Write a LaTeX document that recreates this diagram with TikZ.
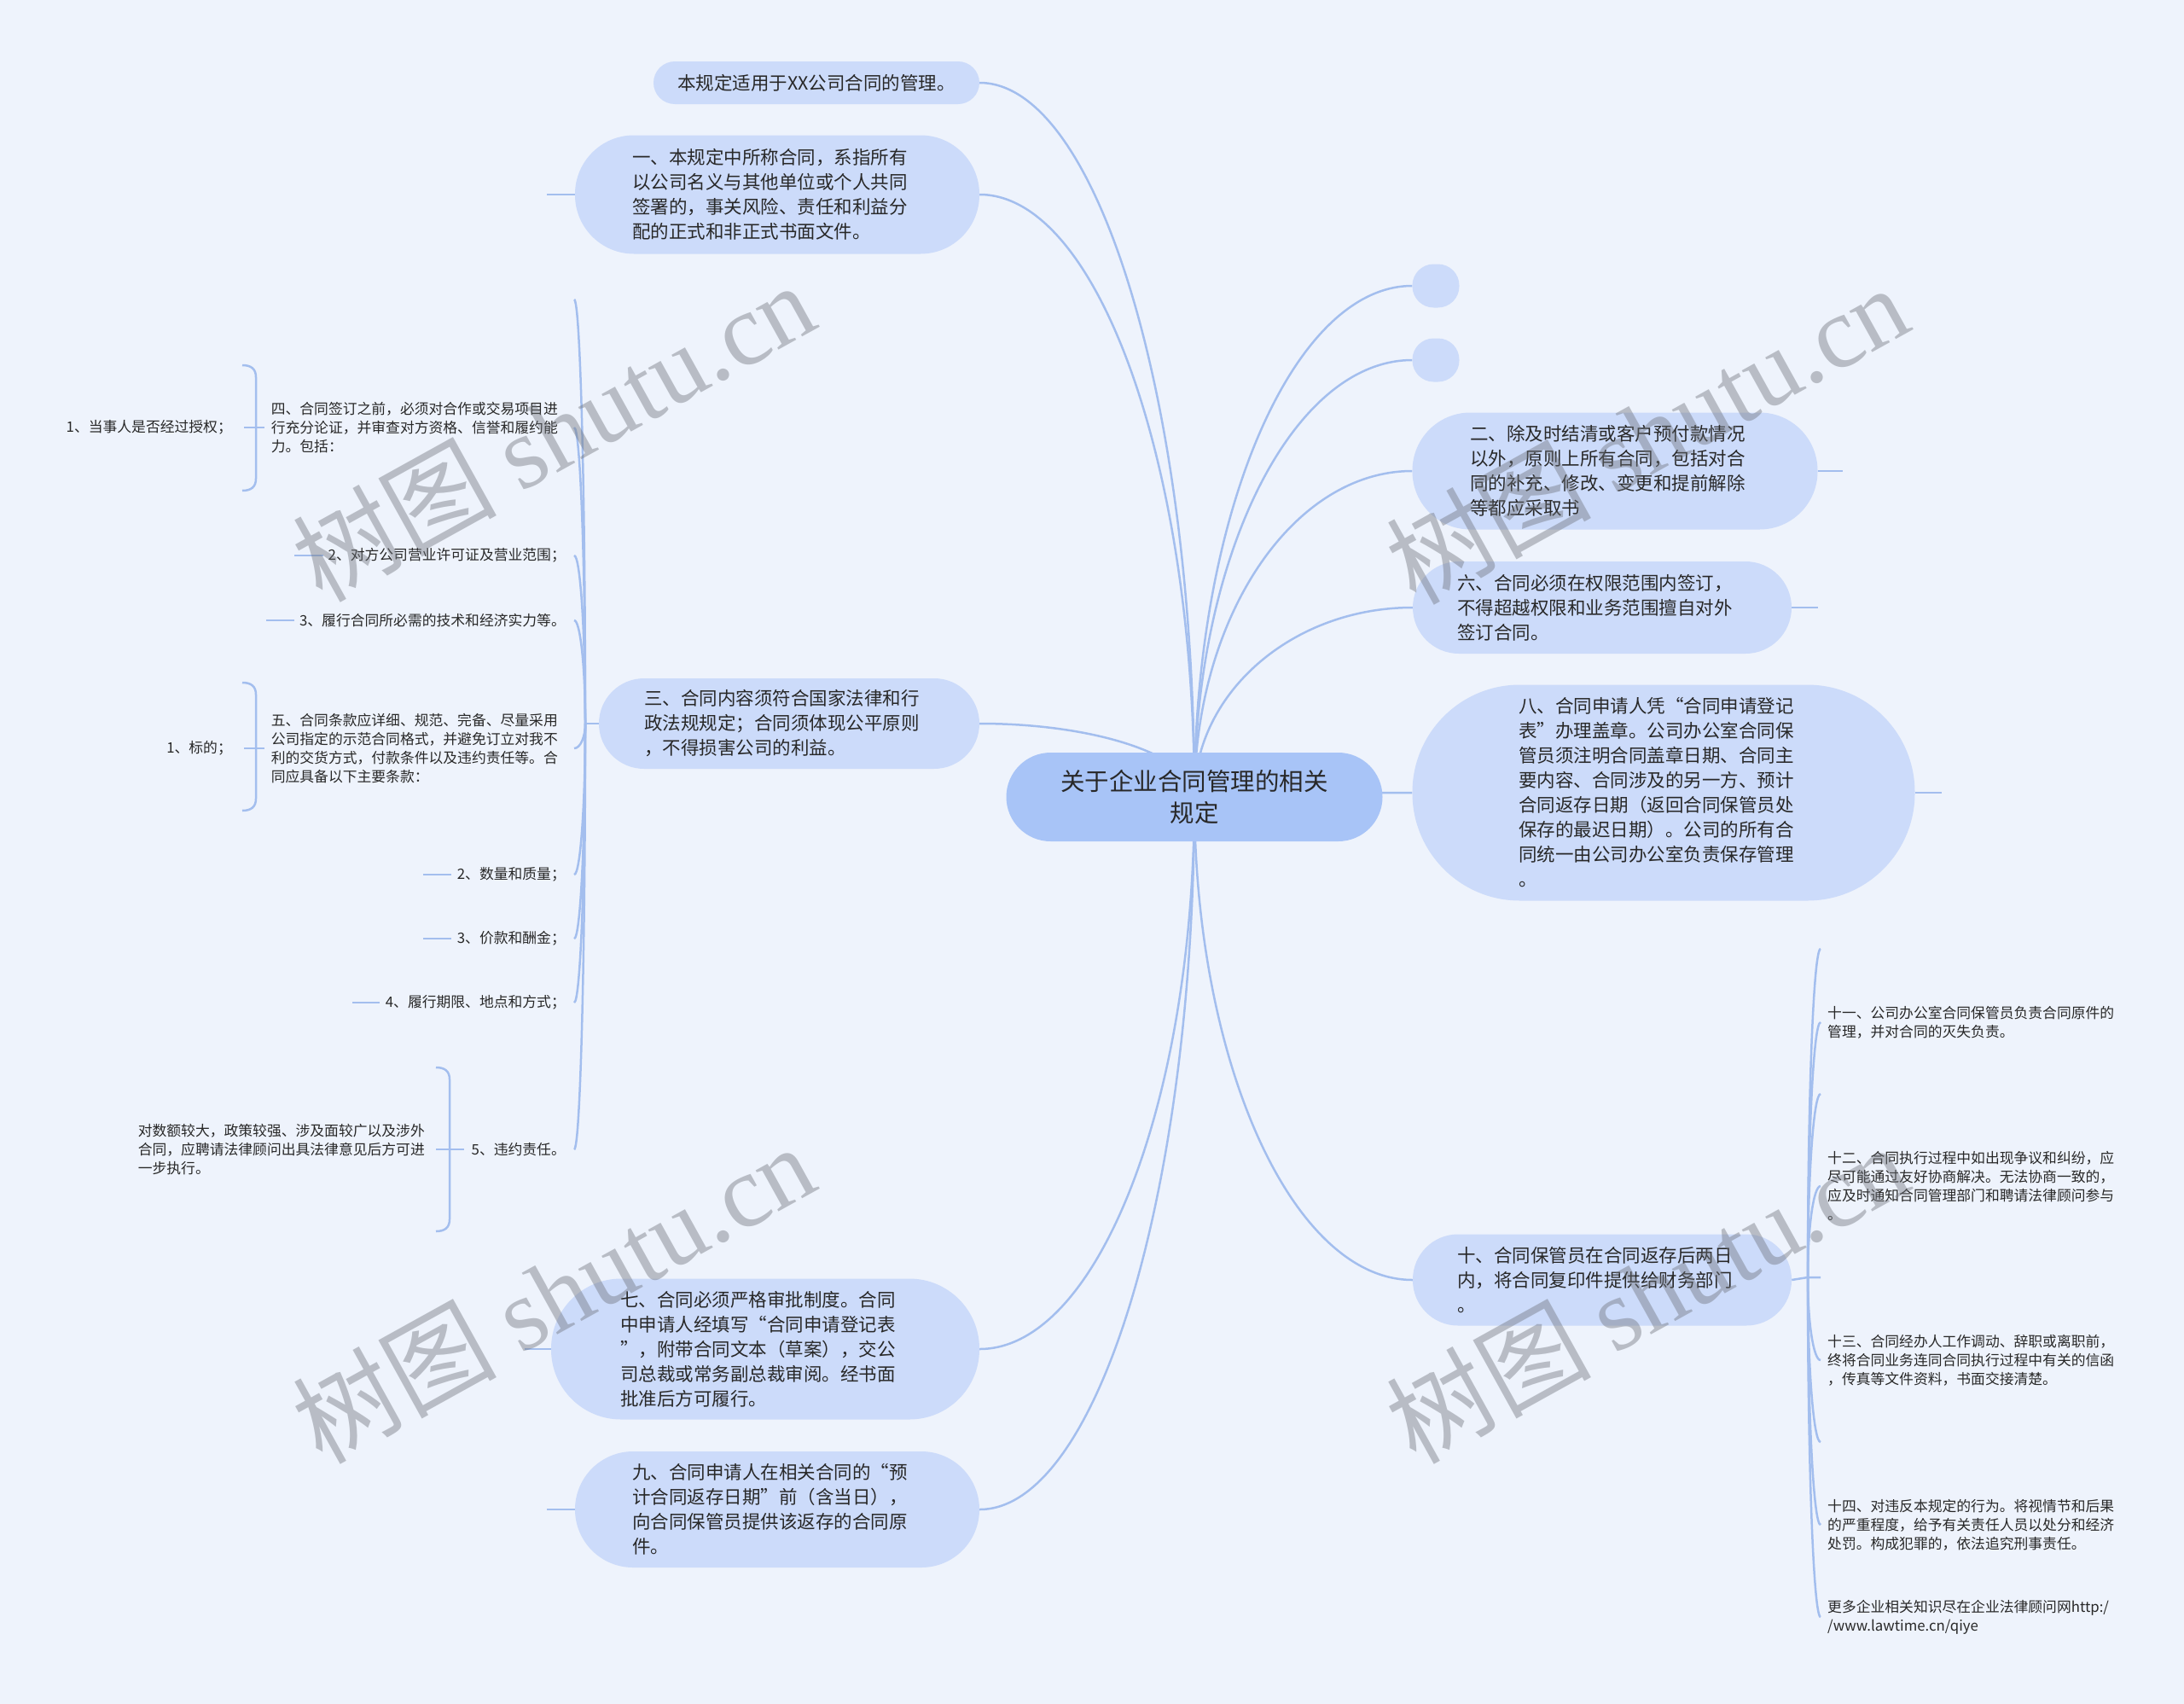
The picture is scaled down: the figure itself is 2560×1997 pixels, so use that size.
\documentclass[tikz,border=0pt]{standalone}
\usepackage{fontspec}
\setmainfont{Noto Sans CJK SC}
\newfontfamily\wmlatin{Liberation Serif}
\usetikzlibrary{calc,backgrounds}
\definecolor{bgc}{RGB}{238,243,252}
\definecolor{nodefill}{RGB}{204,219,250}
\definecolor{rootfill}{RGB}{168,196,247}
\definecolor{linec}{RGB}{163,190,238}
\definecolor{txt}{RGB}{40,40,40}
\definecolor{wmc}{RGB}{110,114,122}
\newcommand\mmlink[2]{\draw[conn] (#1) .. controls ($(#1)!.55!(#1|-#2)$) and ($(#2)!.55!(#1|-#2)$) .. (#2);}
\begin{document}
\begin{tikzpicture}[x=1pt,y=-1pt,
  conn/.style={draw=linec,line width=2.5pt},
  rootnode/.style={rectangle,fill=rootfill,inner sep=0pt,text=txt,align=center,font=\fontsize{28.5}{37}\selectfont,minimum width=441pt,minimum height=104pt,rounded corners=52pt},
  mainnode/.style={rectangle,fill=nodefill,inner sep=0pt,text=txt,align=left,text width=340pt,font=\fontsize{21.5}{29}\selectfont},
  pillnode/.style={rectangle,fill=nodefill,inner sep=0pt,minimum width=55pt,minimum height=51pt,rounded corners=25pt},
  smallnode/.style={inner sep=0pt,text=txt,font=\fontsize{16.8}{22}\selectfont},
  smallblock/.style={smallnode,align=left,text width=345pt},
  wm/.style={text=wmc,text opacity=0.42,inner sep=0pt,font=\fontsize{120}{124}\selectfont,rotate=29}
]
\useasboundingbox (0,0) rectangle (2560,1997);
\begin{pgfonlayer}{background}
\fill[bgc] (0,0) rectangle (2560,1997);
\end{pgfonlayer}

% root
\node[rootnode] (root) at (1400,934) {关于企业合同管理的相关\\规定};

% left main nodes
\node[mainnode,align=center,minimum width=382pt,minimum height=50pt,rounded corners=25pt] (n0) at (957,97) {本规定适用于XX公司合同的管理。};
\node[mainnode,minimum width=474pt,minimum height=139pt,rounded corners=69pt] (n1) at (911,228) {一、本规定中所称合同，系指所有\\以公司名义与其他单位或个人共同\\签署的，事关风险、责任和利益分\\配的正式和非正式书面文件。};
\node[mainnode,minimum width=446pt,minimum height=106pt,rounded corners=53pt] (n3) at (925,848) {三、合同内容须符合国家法律和行\\政法规规定；合同须体现公平原则\\，不得损害公司的利益。};
\node[mainnode,minimum width=502pt,minimum height=165pt,rounded corners=82pt] (n7) at (897,1581) {七、合同必须严格审批制度。合同\\中申请人经填写“合同申请登记表\\”，附带合同文本（草案），交公\\司总裁或常务副总裁审阅。经书面\\批准后方可履行。};
\node[mainnode,minimum width=474pt,minimum height=136pt,rounded corners=68pt] (n9) at (911,1769) {九、合同申请人在相关合同的“预\\计合同返存日期”前（含当日），\\向合同保管员提供该返存的合同原\\件。};

% right main nodes
\node[pillnode] (e1) at (1683,335) {};
\node[pillnode] (e2) at (1683,422) {};
\node[mainnode,minimum width=475pt,minimum height=137pt,rounded corners=68pt] (n2) at (1893,552) {二、除及时结清或客户预付款情况\\以外，原则上所有合同，包括对合\\同的补充、修改、变更和提前解除\\等都应采取书};
\node[mainnode,minimum width=444pt,minimum height=108pt,rounded corners=54pt] (n6) at (1878,712) {六、合同必须在权限范围内签订，\\不得超越权限和业务范围擅自对外\\签订合同。};
\node[mainnode,minimum width=589pt,minimum height=253pt,rounded corners=126pt] (n8) at (1950,929) {八、合同申请人凭“合同申请登记\\表”办理盖章。公司办公室合同保\\管员须注明合同盖章日期、合同主\\要内容、合同涉及的另一方、预计\\合同返存日期（返回合同保管员处\\保存的最迟日期）。公司的所有合\\同统一由公司办公室负责保存管理\\。};
\node[mainnode,minimum width=444pt,minimum height=107pt,rounded corners=53pt] (n10) at (1878,1500) {十、合同保管员在合同返存后两日\\内，将合同复印件提供给财务部门\\。};

% left small nodes
\node[smallblock,anchor=east] (n4) at (663,501) {四、合同签订之前，必须对合作或交易项目进\\行充分论证，并审查对方资格、信誉和履约能\\力。包括：};
\node[smallnode,anchor=east] (n4a) at (272,501) {1、当事人是否经过授权；};
\node[smallnode,anchor=east] (n4b) at (663,651) {2、对方公司营业许可证及营业范围；};
\node[smallnode,anchor=east] (n4c) at (663,727) {3、履行合同所必需的技术和经济实力等。};
\node[smallblock,anchor=east] (n5) at (663,877) {五、合同条款应详细、规范、完备、尽量采用\\公司指定的示范合同格式，并避免订立对我不\\利的交货方式，付款条件以及违约责任等。合\\同应具备以下主要条款：};
\node[smallnode,anchor=east] (n5a) at (272,877) {1、标的；};
\node[smallnode,anchor=east] (n5b) at (663,1025) {2、数量和质量；};
\node[smallnode,anchor=east] (n5c) at (663,1100) {3、价款和酬金；};
\node[smallnode,anchor=east] (n5d) at (663,1175) {4、履行期限、地点和方式；};
\node[smallnode,anchor=east] (n5e) at (663,1347) {5、违约责任。};
\node[smallblock,anchor=east] (n5f) at (507,1347) {对数额较大，政策较强、涉及面较广以及涉外\\合同，应聘请法律顾问出具法律意见后方可进\\一步执行。};

% right small nodes
\node[smallblock,anchor=west] (r11) at (2142,1198) {十一、公司办公室合同保管员负责合同原件的\\管理，并对合同的灭失负责。};
\node[smallblock,anchor=west] (r12) at (2142,1390) {十二、合同执行过程中如出现争议和纠纷，应\\尽可能通过友好协商解决。无法协商一致的，\\应及时通知合同管理部门和聘请法律顾问参与\\。};
\node[smallblock,anchor=west] (r13) at (2142,1594) {十三、合同经办人工作调动、辞职或离职前，\\终将合同业务连同合同执行过程中有关的信函\\，传真等文件资料，书面交接清楚。};
\node[smallblock,anchor=west] (r14) at (2142,1787) {十四、对违反本规定的行为。将视情节和后果\\的严重程度，给予有关责任人员以处分和经济\\处罚。构成犯罪的，依法追究刑事责任。};
\node[smallblock,anchor=west] (r15) at (2142,1895) {更多企业相关知识尽在企业法律顾问网http:/\\/www.lawtime.cn/qiye};

% comb coordinates
\coordinate (J1) at (686,848);
\coordinate (L0) at (673,351);
\coordinate (L1) at (673,501);
\coordinate (L2) at (673,651);
\coordinate (L3) at (673,727);
\coordinate (L4) at (673,877);
\coordinate (L5) at (673,1025);
\coordinate (L6) at (673,1100);
\coordinate (L7) at (673,1175);
\coordinate (L8) at (673,1347);
\coordinate (J2) at (2119,1497);
\coordinate (R0) at (2134,1112);
\coordinate (R1) at (2134,1198);
\coordinate (R2) at (2134,1282);
\coordinate (R3) at (2134,1390);
\coordinate (R4) at (2134,1497);
\coordinate (R5) at (2134,1594);
\coordinate (R6) at (2134,1690);
\coordinate (R7) at (2134,1787);
\coordinate (R8) at (2134,1895);

\begin{pgfonlayer}{background}
% root links
\mmlink{root.center}{n0.east}
\mmlink{root.center}{n1.east}
\mmlink{root.center}{n3.east}
\mmlink{root.center}{n7.east}
\mmlink{root.center}{n9.east}
\mmlink{root.center}{e1.west}
\mmlink{root.center}{e2.west}
\mmlink{root.center}{n2.west}
\mmlink{root.center}{n6.west}
\mmlink{root.center}{n8.west}
\mmlink{root.center}{n10.west}
% stubs on main nodes
\draw[conn] (n1.west) -- ++(-33,0);
\draw[conn] (n7.west) -- ++(-31,0);
\draw[conn] (n9.west) -- ++(-33,0);
\draw[conn] (n2.east) -- ++(29,0);
\draw[conn] (n6.east) -- ++(31,0);
\draw[conn] (n8.east) -- ++(31,0);
% left comb
\draw[conn] (n3.west) -- (J1);
\mmlink{J1}{L0}
\mmlink{J1}{L1}
\mmlink{J1}{L2}
\mmlink{J1}{L3}
\mmlink{J1}{L4}
\mmlink{J1}{L5}
\mmlink{J1}{L6}
\mmlink{J1}{L7}
\mmlink{J1}{L8}
% right comb
\draw[conn] (n10.east) -- (J2) -- (R4);
\mmlink{J2}{R0}
\mmlink{J2}{R1}
\mmlink{J2}{R2}
\mmlink{J2}{R3}
\mmlink{J2}{R5}
\mmlink{J2}{R6}
\mmlink{J2}{R7}
\mmlink{J2}{R8}
% stubs on small nodes
\draw[conn] ($(n4b.west)+(-5,0)$) -- ++(-34,0);
\draw[conn] ($(n4c.west)+(-6,0)$) -- ++(-33,0);
\draw[conn] ($(n5b.west)+(-7,0)$) -- ++(-33,0);
\draw[conn] ($(n5c.west)+(-7,0)$) -- ++(-33,0);
\draw[conn] ($(n5d.west)+(-7,0)$) -- ++(-32,0);
% brackets
\draw[conn] (284,428) .. controls (294,428) and (300,432) .. (300,442) -- (300,561) .. controls (300,571) and (294,575) .. (284,575);
\draw[conn] ($(n4a.east)+(14,0)$) -- ($(n4.west)+(-8,0)$);
\draw[conn] (284,800) .. controls (294,800) and (300,804) .. (300,814) -- (300,936) .. controls (300,946) and (294,950) .. (284,950);
\draw[conn] ($(n5a.east)+(14,0)$) -- ($(n5.west)+(-8,0)$);
\draw[conn] (511,1251) .. controls (521,1251) and (527,1255) .. (527,1265) -- (527,1429) .. controls (527,1439) and (521,1443) .. (511,1443);
\draw[conn] ($(n5f.east)+(4,0)$) -- ($(n5e.west)+(-8,0)$);
\end{pgfonlayer}

% watermarks
\node[wm] (w1) at (648,505) {树图 {\wmlatin shutu.cn}};
\node[wm] (w2) at (1930,508) {树图 {\wmlatin shutu.cn}};
\node[wm] (w3) at (648,1515) {树图 {\wmlatin shutu.cn}};
\node[wm] (w4) at (1930,1515) {树图 {\wmlatin shutu.cn}};
\end{tikzpicture}
\end{document}
